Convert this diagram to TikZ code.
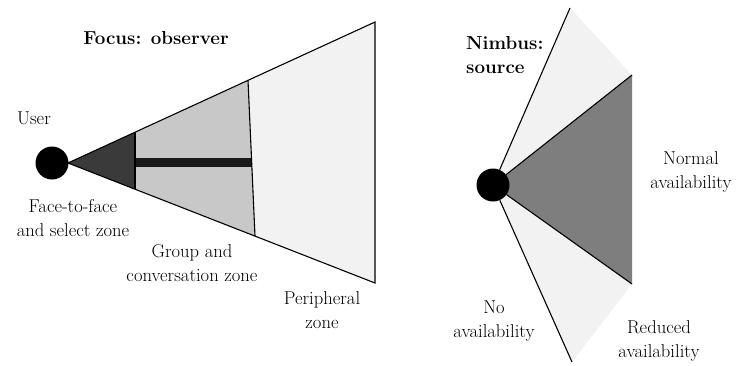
\documentclass[tikz,border=0pt]{standalone}
\definecolor{verylight}{HTML}{F2F2F2}
\definecolor{midgray}{HTML}{C8C8C8}
\definecolor{darkgray1}{HTML}{3A3A3A}
\definecolor{bargray}{HTML}{1A1A1A}
\definecolor{nimbusgray}{HTML}{7E7E7E}
\begin{document}
\begin{tikzpicture}[x=1pt,y=-1pt,
  edge/.style={draw=black,line width=1.1pt},
  lbl/.style={font=\fontsize{18.6}{24}\selectfont,align=center,inner sep=0pt},
  ttl/.style={font=\fontsize{18.8}{24}\selectfont\bfseries,inner sep=0pt},
  person/.style={circle,fill=black,minimum size=33pt,inner sep=0pt}]
\useasboundingbox (0,0) rectangle (739,365);
% ---------- left: focus ----------
\coordinate (apex) at (68,163);
\coordinate (ftop) at (375,22);
\coordinate (fbot) at (375,283);
\coordinate (d1t) at (135,132.2);
\coordinate (d1b) at (135,189.2);
\coordinate (d2t) at (248,80.3);
\coordinate (d2b) at (255,236.1);
\fill[verylight] (apex) -- (ftop) -- (fbot) -- cycle;
\fill[midgray] (d1t) -- (d2t) -- (d2b) -- (d1b) -- cycle;
\fill[darkgray1] (apex) -- (d1t) -- (d1b) -- cycle;
\fill[bargray] (135,158) rectangle (252,166.5);
\draw[edge] (d1t) -- (d1b);
\draw[edge] (d2t) -- (d2b);
\draw[edge,line join=miter] (apex) -- (ftop) -- (fbot) -- cycle;
\node[person] (user) at (52,163) {};
\node[ttl] (focus) at (156,38) {Focus: observer};
\node[lbl] (userlbl) at (34,118) {User};
\node[lbl] (f2f) at (73,218) {Face-to-face\\and select zone};
\node[lbl] (group) at (192,263) {Group and\\conversation zone};
\node[lbl] (periph) at (322,310) {Peripheral\\zone};
% ---------- right: nimbus ----------
\coordinate (sc) at (493,185);
\coordinate (ntop) at (570,8);
\coordinate (nbot) at (572,362);
\coordinate (rtop) at (632,75);
\coordinate (rbot) at (632,284);
\fill[verylight] (sc) -- (ntop) -- (rtop) -- (rbot) -- (nbot) -- cycle;
\fill[nimbusgray] (sc) -- (rtop) -- (rbot) -- cycle;
\node[person] (src) at (sc) {};
\draw[edge] (src) -- (ntop);
\draw[edge] (src) -- (nbot);
\draw[edge] (src) -- (rtop);
\draw[edge] (src) -- (rbot);
\node[ttl,align=left,anchor=west] (nimbus) at (466,55) {Nimbus:\\source};
\node[lbl] (normal) at (691,172) {Normal\\availability};
\node[lbl] (noav) at (494,321) {No\\availability};
\node[lbl] (reduced) at (659,341) {Reduced\\availability};
\end{tikzpicture}
\end{document}
